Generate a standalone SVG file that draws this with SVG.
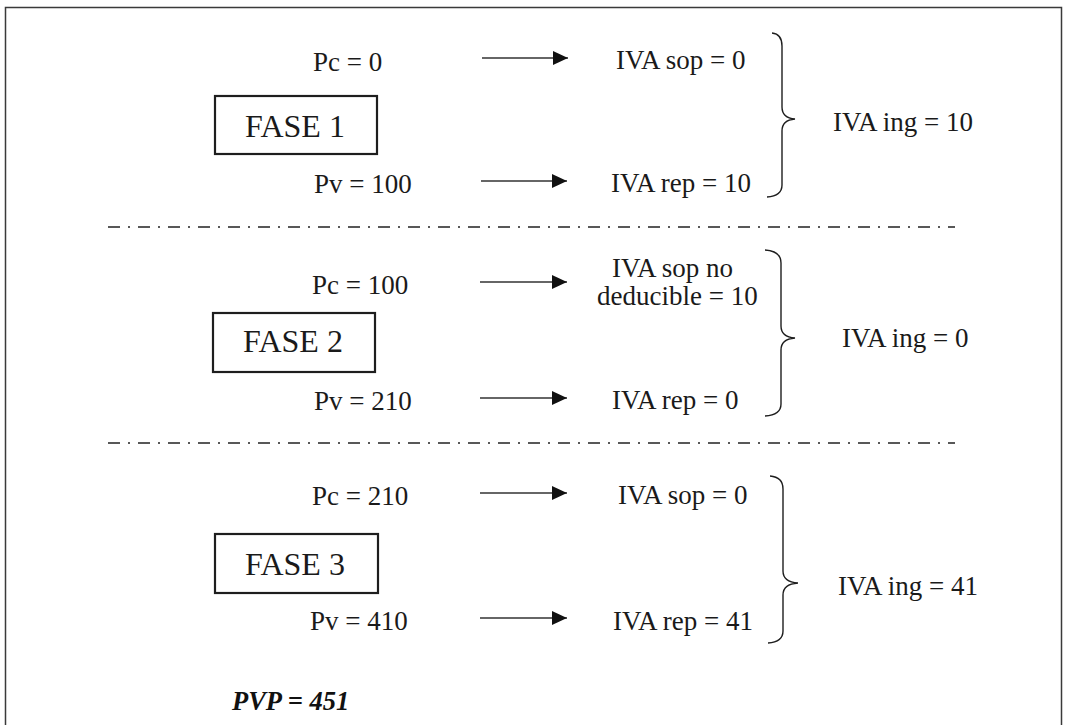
<svg xmlns="http://www.w3.org/2000/svg" width="1065" height="725" viewBox="0 0 1065 725">
  <defs>
    <style>
      .lbl { font-family: "Liberation Serif", "Times New Roman", serif; font-size: 27px; fill: #1a1a1a; }
      .fase { font-family: "Liberation Serif", "Times New Roman", serif; font-size: 32px; fill: #1a1a1a; }
      .total { font-family: "Liberation Serif", "Times New Roman", serif; font-size: 26.5px; font-weight: bold; font-style: italic; fill: #111; }
      .box { fill: none; stroke: #1e1e1e; stroke-width: 2.2; }
      .arrow { stroke: #333; stroke-width: 1.5; fill: none; marker-end: url(#head); }
      .brace { fill: none; stroke: #1e1e1e; stroke-width: 1.4; }
      .sep { stroke: #222; stroke-width: 1.3; stroke-dasharray: 12 8 2 8; fill: none; }
      .frame { fill: none; stroke: #3a3a3a; stroke-width: 1.5; }
    </style>
    <marker id="head" viewBox="0 0 15 14" refX="15" refY="7" markerWidth="15" markerHeight="14" markerUnits="userSpaceOnUse" orient="auto">
      <path d="M0,0 L15,7 L0,14 Z" fill="#111"/>
    </marker>
  </defs>

  <rect width="1065" height="725" fill="#fff"/>
  <!-- page frame, open at the bottom -->
  <path class="frame" d="M5.5,725 V7.5 H1061.5 V725"/>

  <!-- phase 1 -->
  <g id="fase1">
    <rect class="box" x="215" y="96" width="162" height="58"/>
    <text class="fase" x="245" y="137">FASE 1</text>
  </g>
  <g id="pc1"><text class="lbl" x="313" y="71">Pc = 0</text></g>
  <g id="pv1"><text class="lbl" x="314" y="193">Pv = 100</text></g>
  <g id="sop1"><text class="lbl" x="616" y="69">IVA sop = 0</text></g>
  <g id="rep1"><text class="lbl" x="611" y="192">IVA rep = 10</text></g>
  <g id="ing1"><text class="lbl" x="833" y="131">IVA ing = 10</text></g>

  <!-- phase 2 -->
  <g id="fase2">
    <rect class="box" x="213" y="313" width="162" height="59"/>
    <text class="fase" x="243" y="352">FASE 2</text>
  </g>
  <g id="pc2"><text class="lbl" x="312" y="294">Pc = 100</text></g>
  <g id="pv2"><text class="lbl" x="314" y="410">Pv = 210</text></g>
  <g id="sop2">
    <text class="lbl" x="612" y="277">IVA sop no</text>
    <text class="lbl" x="597" y="305">deducible = 10</text>
  </g>
  <g id="rep2"><text class="lbl" x="612" y="409">IVA rep = 0</text></g>
  <g id="ing2"><text class="lbl" x="842" y="347">IVA ing = 0</text></g>

  <!-- phase 3 -->
  <g id="fase3">
    <rect class="box" x="215" y="534" width="163" height="59"/>
    <text class="fase" x="245" y="575">FASE 3</text>
  </g>
  <g id="pc3"><text class="lbl" x="312" y="505">Pc = 210</text></g>
  <g id="pv3"><text class="lbl" x="310" y="630">Pv = 410</text></g>
  <g id="sop3"><text class="lbl" x="618" y="504">IVA sop = 0</text></g>
  <g id="rep3"><text class="lbl" x="613" y="630">IVA rep = 41</text></g>
  <g id="ing3"><text class="lbl" x="838" y="595">IVA ing = 41</text></g>

  <g id="pvp"><text class="total" x="232" y="710">PVP = 451</text></g>

  <!-- connectors: arrows, braces and phase separators -->
  <g id="connectors">
    <line class="arrow" x1="482" y1="58" x2="568" y2="58"/>
    <line class="arrow" x1="481" y1="181" x2="567" y2="181"/>
    <line class="arrow" x1="480" y1="282" x2="567" y2="282"/>
    <line class="arrow" x1="480" y1="398" x2="567" y2="398"/>
    <line class="arrow" x1="480" y1="493" x2="567" y2="493"/>
    <line class="arrow" x1="480" y1="618" x2="567" y2="618"/>

    <path class="brace" d="M772,33 Q782,34 782,46 V107 Q782,118 795,119 Q782,120 782,131 V185 Q782,196 767,197"/>
    <path class="brace" d="M765,250 Q781,251 781,263 V326 Q781,337 795,338 Q781,339 781,350 V404 Q781,415 765,416"/>
    <path class="brace" d="M770,476 Q783,477 783,489 V571 Q783,582 798,583 Q783,584 783,595 V631 Q783,642 768,643"/>

    <line class="sep" x1="108" y1="227" x2="955" y2="227"/>
    <line class="sep" x1="108" y1="443" x2="955" y2="443"/>
  </g>
</svg>
